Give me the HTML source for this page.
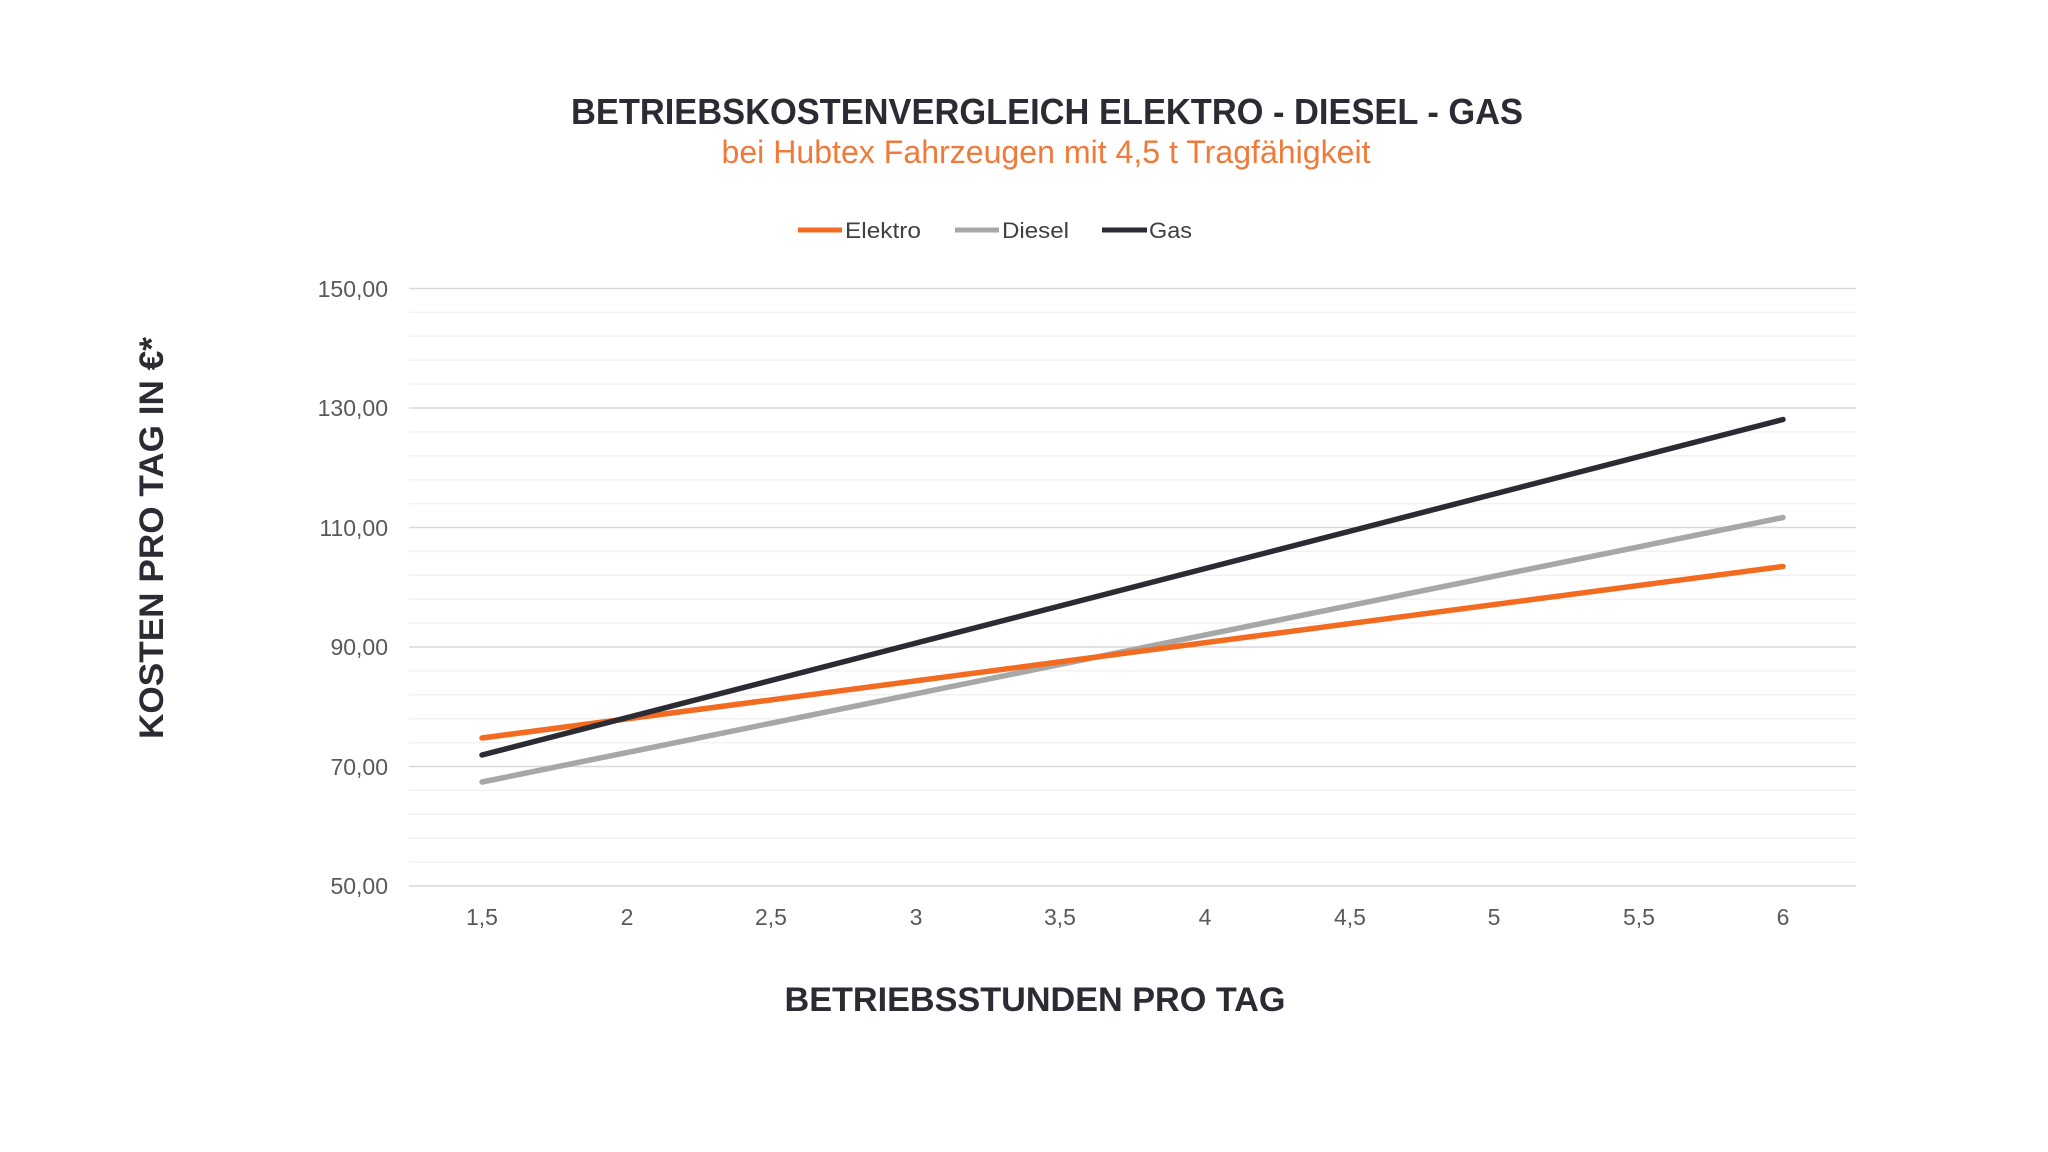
<!DOCTYPE html>
<html><head><meta charset="utf-8"><style>html,body{margin:0;padding:0;background:#fff}svg{display:block}</style></head>
<body>
<svg width="2048" height="1152" viewBox="0 0 2048 1152" xmlns="http://www.w3.org/2000/svg" font-family="Liberation Sans, sans-serif">
<rect width="2048" height="1152" fill="#fff"/>
<text x="1047" y="124" font-size="36" font-weight="bold" fill="#2b2b33" text-anchor="middle" textLength="952" lengthAdjust="spacingAndGlyphs">BETRIEBSKOSTENVERGLEICH ELEKTRO - DIESEL - GAS</text>
<text x="1046" y="163" font-size="32" fill="#f07a3a" text-anchor="middle" textLength="649" lengthAdjust="spacingAndGlyphs">bei Hubtex Fahrzeugen mit 4,5 t Tragfähigkeit</text>
<g font-size="22" fill="#404040">
<line x1="798" y1="230" x2="842" y2="230" stroke="#f26b21" stroke-width="5"/>
<text x="845" y="238" textLength="76" lengthAdjust="spacingAndGlyphs">Elektro</text>
<line x1="955" y1="230" x2="999" y2="230" stroke="#a5a8a6" stroke-width="5"/>
<text x="1002" y="238" textLength="67" lengthAdjust="spacingAndGlyphs">Diesel</text>
<line x1="1102" y1="230" x2="1147" y2="230" stroke="#2b2b33" stroke-width="5"/>
<text x="1149" y="238" textLength="43" lengthAdjust="spacingAndGlyphs">Gas</text>
</g>
<g stroke="#f2f2f2" stroke-width="1.5">
<line x1="409" x2="1856" y1="312.4" y2="312.4"/><line x1="409" x2="1856" y1="336.3" y2="336.3"/><line x1="409" x2="1856" y1="360.2" y2="360.2"/><line x1="409" x2="1856" y1="384.1" y2="384.1"/>
<line x1="409" x2="1856" y1="431.9" y2="431.9"/><line x1="409" x2="1856" y1="455.8" y2="455.8"/><line x1="409" x2="1856" y1="479.7" y2="479.7"/><line x1="409" x2="1856" y1="503.6" y2="503.6"/>
<line x1="409" x2="1856" y1="551.4" y2="551.4"/><line x1="409" x2="1856" y1="575.3" y2="575.3"/><line x1="409" x2="1856" y1="599.2" y2="599.2"/><line x1="409" x2="1856" y1="623.1" y2="623.1"/>
<line x1="409" x2="1856" y1="670.9" y2="670.9"/><line x1="409" x2="1856" y1="694.8" y2="694.8"/><line x1="409" x2="1856" y1="718.7" y2="718.7"/><line x1="409" x2="1856" y1="742.6" y2="742.6"/>
<line x1="409" x2="1856" y1="790.4" y2="790.4"/><line x1="409" x2="1856" y1="814.3" y2="814.3"/><line x1="409" x2="1856" y1="838.2" y2="838.2"/><line x1="409" x2="1856" y1="862.1" y2="862.1"/>
</g>
<g stroke="#d9d9d9" stroke-width="1.5">
<line x1="409" x2="1856" y1="288.5" y2="288.5"/><line x1="409" x2="1856" y1="408" y2="408"/><line x1="409" x2="1856" y1="527.5" y2="527.5"/><line x1="409" x2="1856" y1="647" y2="647"/><line x1="409" x2="1856" y1="766.5" y2="766.5"/><line x1="409" x2="1856" y1="886" y2="886"/>
</g>
<g font-size="23" fill="#595959" text-anchor="end">
<text x="388" y="297">150,00</text><text x="388" y="416">130,00</text><text x="388" y="536">110,00</text><text x="388" y="655">90,00</text><text x="388" y="775">70,00</text><text x="388" y="894">50,00</text>
</g>
<g font-size="23" fill="#595959" text-anchor="middle">
<text x="482" y="925">1,5</text><text x="627" y="925">2</text><text x="771" y="925">2,5</text><text x="916" y="925">3</text><text x="1060" y="925">3,5</text><text x="1205" y="925">4</text><text x="1350" y="925">4,5</text><text x="1494" y="925">5</text><text x="1639" y="925">5,5</text><text x="1783" y="925">6</text>
</g>
<g stroke-width="5.5" stroke-linecap="round" fill="none">
<line x1="482" y1="782" x2="1783" y2="517.5" stroke="#a5a8a6"/>
<line x1="482" y1="738" x2="1783" y2="566.5" stroke="#f26b21"/>
<line x1="482" y1="755" x2="1783" y2="419.5" stroke="#2b2b33"/>
</g>
<text x="1035" y="1011" font-size="34" font-weight="bold" fill="#2b2b33" text-anchor="middle" textLength="501" lengthAdjust="spacingAndGlyphs">BETRIEBSSTUNDEN PRO TAG</text>
<text transform="translate(163,538) rotate(-90)" font-size="34" font-weight="bold" fill="#2b2b33" text-anchor="middle" textLength="402" lengthAdjust="spacingAndGlyphs">KOSTEN PRO TAG IN €*</text>
</svg>
</body></html>
